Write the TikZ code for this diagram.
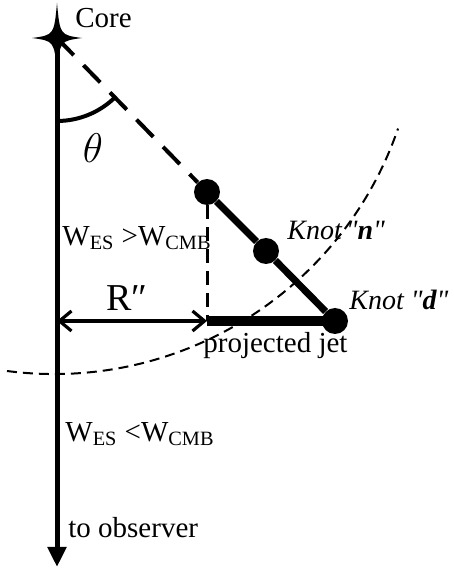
\documentclass[tikz,border=0pt]{standalone}
\usepackage{fontspec}
\setmainfont{Liberation Serif}
\usetikzlibrary{arrows.meta}

\tikzset{
  knot/.style={circle, fill=black, inner sep=0pt, minimum size=13pt},
  lbl/.style={font=\fontsize{14.5}{17}\selectfont, inner sep=0pt},
  knotlbl/.style={font=\fontsize{14}{17}\selectfont\itshape, inner sep=0pt, anchor=west},
  barb/.tip={Straight Barb[length=6pt,width=10pt]},
}

\begin{document}
\begin{tikzpicture}[x=0.5pt, y=0.5pt]
\useasboundingbox (0,0) rectangle (454,569);

% core and line of sight to the observer
\coordinate (core) at (57,531);
\coordinate (obs) at (57,2);
\fill (57,566) .. controls (60,534) .. (82,531) .. controls (60,528) .. (57,498) .. controls (54,528) .. (32,531) .. controls (54,534) .. cycle;
\draw[line width=2.5pt, -{Triangle[length=10pt,width=9pt]}] (core) -- (obs);
\node[lbl, anchor=west] (corelbl) at (75,551) {Core};

% knots along the jet
\node[knot] (kt) at (207,377) {};
\node[knot] (kn) at (266,318) {};
\node[knot] (kd) at (335,248) {};
\coordinate (foot) at (207,248);
\coordinate (axis) at (57,248);

\draw[line width=2pt, dash pattern=on 12pt off 7pt] (core) -- (kt);
\draw[line width=3.5pt] (kt) -- (kn) -- (kd);
\draw[line width=1.5pt, dash pattern=on 7pt off 4pt] (kt) -- (foot);
\draw[line width=5pt] (foot) -- (kd.center);

% angle to the line of sight
\draw[line width=2pt] (57,448) arc[start angle=270, end angle=315, radius=83];
\node[font=\fontsize{22}{26}\selectfont, inner sep=0pt] (theta) at (93,421) {$\theta$};

% projected distance
\draw[line width=1.6pt, barb-barb] (axis) -- (foot);
\node[font=\fontsize{19}{22}\selectfont, inner sep=0pt] (rlbl) at (127,271) {R″};

% equal energy density surface
\draw[line width=1pt, dash pattern=on 5pt off 3pt] (7,198) arc[start angle=262.6, end angle=341, radius=364];

% labels
\node[lbl, anchor=west] (wgt) at (62,331) {W\textsubscript{ES} >W\textsubscript{CMB}};
\node[lbl, anchor=west] (wlt) at (65,135) {W\textsubscript{ES} <W\textsubscript{CMB}};
\node[lbl, anchor=west] (obslbl) at (68,41) {to observer};
\node[knotlbl] (knlbl) at (287,339) {Knot\kern2pt\textquotedbl\textbf{n}\textquotedbl};
\node[knotlbl] (kdlbl) at (349,269) {Knot \textquotedbl\textbf{d}\textquotedbl};
\node[lbl, anchor=west] (jetlbl) at (203,223) {projected jet};

\end{tikzpicture}
\end{document}
